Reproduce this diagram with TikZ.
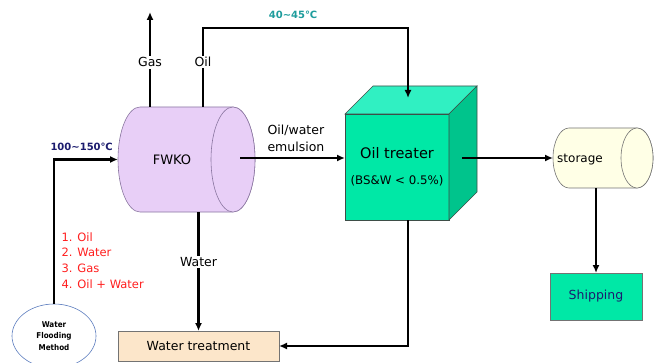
\documentclass[tikz,border=0pt]{standalone}
\usepackage{fontspec}
\setmainfont{DejaVu Sans}
\newfontfamily\condfont{DejaVu Sans Condensed}
\usetikzlibrary{arrows.meta, shapes.geometric, positioning, calc}
\definecolor{fwkolila}{HTML}{E8CFF7}
\definecolor{fwkoline}{HTML}{8A76A0}
\definecolor{treatfront}{HTML}{00E8A6}
\definecolor{treattop}{HTML}{30F0C2}
\definecolor{treatside}{HTML}{00C48C}
\definecolor{boxline}{HTML}{3E4E48}
\definecolor{storecream}{HTML}{FFFFE6}
\definecolor{watercream}{HTML}{FCE6CA}
\definecolor{floodblue}{HTML}{5B7CBE}
\definecolor{tempnavy}{HTML}{1C1C6E}
\definecolor{tempteal}{HTML}{1E9C9C}
\definecolor{listred}{HTML}{FF1E1E}

\tikzset{
  flow/.style={line width=2.2pt, -{Latex[length=8pt,width=7pt]}},
  tag/.style={fill=white, inner sep=1.5pt, font=\fontsize{12.5}{14}\selectfont},
  hull/.style={inner sep=0pt, outer sep=0pt},
  unit/.style={draw=boxline, line width=0.6pt, inner sep=0pt, outer sep=0pt},
  temp/.style={font=\bfseries\fontsize{10}{12}\selectfont},
}

\begin{document}
\begin{tikzpicture}[x=1pt, y=-1pt]
      \useasboundingbox (0,0) rectangle (660,363);
      % FWKO
      \node[hull, minimum width=137pt, minimum height=105pt] (fwko) at (186.5,159.5) {};
      \draw[fwkoline, fill=fwkolila, line width=0.6pt]
        ($(fwko.north west)+(22,0)$) -- ($(fwko.north east)+(-22,0)$)
        arc[start angle=-90, end angle=90, x radius=22, y radius=52.5]
        -- ($(fwko.south west)+(22,0)$)
        arc[start angle=90, end angle=270, x radius=22, y radius=52.5] -- cycle;
      \draw[fwkoline, fill=fwkolila, line width=0.6pt]
        ($(fwko.east)+(-22,0)$) ellipse[x radius=22, y radius=52.5];
      \node[font=\fontsize{13}{15}\selectfont] (fwkotxt) at (172,160) {FWKO};
      % Oil treater
      \node[unit, fill=treatfront, minimum width=104pt, minimum height=106pt,
            align=center, font=\fontsize{14.5}{17}\selectfont]
        (treater) at (397,167)
        {Oil treater\\[9pt]{\fontsize{11.8}{13}\selectfont (BS\&W < 0.5\%)}};
      \draw[unit, fill=treattop] (treater.north west) -- ++(28,-28) -- ++(104,0)
        -- (treater.north east) -- cycle;
      \draw[unit, fill=treatside] (treater.north east) -- ++(28,-28) -- ++(0,106)
        -- (treater.south east) -- cycle;
      % Storage
      \node[hull, minimum width=100pt, minimum height=60pt] (store) at (603,158) {};
      \draw[black!55, fill=storecream, line width=0.6pt]
        ($(store.north west)+(16,0)$) -- ($(store.north east)+(-16,0)$)
        arc[start angle=-90, end angle=90, x radius=16, y radius=30]
        -- ($(store.south west)+(16,0)$)
        arc[start angle=90, end angle=270, x radius=16, y radius=30] -- cycle;
      \draw[black!55, fill=storecream, line width=0.6pt]
        ($(store.east)+(-16,0)$) ellipse[x radius=16, y radius=30];
      \node[font=\fontsize{12}{14}\selectfont] (storetxt) at (580,160) {storage};
      % Shipping
      \node[unit, draw=black!55, fill=treatfront, minimum width=92pt, minimum height=47pt,
            text=tempnavy, font=\fontsize{12.5}{14}\selectfont]
        (ship) at (596,296.5) {Shipping};
      % Water treatment
      \node[unit, draw=black!55, fill=watercream, minimum width=161pt, minimum height=30pt,
            font=\fontsize{12.5}{14}\selectfont]
        (wt) at (198.5,346) {Water treatment};
      % Water flooding
      \node[ellipse, draw=floodblue, line width=0.6pt, fill=white, minimum width=84pt,
            minimum height=64pt, inner sep=0pt, align=center,
            font=\condfont\bfseries\fontsize{8}{11.7}\selectfont]
        (flood) at (54,336) {Water\\Flooding\\Method};
      % Feed
      \draw[flow] (flood.north) |- (fwko.west);
      \node[temp, text=tempnavy, anchor=west] (feedtemp) at (47,147) {100\textasciitilde150℃};
      \node[anchor=west, align=left, text=listred, font=\fontsize{11.5}{15.7}\selectfont]
        (feedlist) at (58,260.5) {1. Oil\\2. Water\\3. Gas\\4. Oil + Water};
      % Gas
      \coordinate (gastop) at (150,12);
      \draw[flow] (fwko.north -| gastop) -- node[tag, pos=0.47] (gastxt) {Gas} (gastop);
      % Oil
      \coordinate (oilbend) at (203,28);
      \coordinate (oilturn) at (408,28);
      \coordinate (treattop) at ($(treater.north)+(11,-16)$);
      \draw[flow] (fwko.north -| oilbend) -- node[tag, pos=0.57] (oiltxt) {Oil} (oilbend)
        -- (oilturn) -- (treattop);
      \node[temp, text=tempteal] (oiltemp) at (293,15) {40\textasciitilde45℃};
      % Emulsion
      \coordinate (emulsrc) at (240,158);
      \draw[flow] (emulsrc) -- (emulsrc -| treater.west);
      \node[anchor=west, align=left, font=\fontsize{12.5}{17}\selectfont]
        (emultxt) at (264,138) {Oil/water\\emulsion};
      % To storage
      \coordinate (treatout) at (462,158);
      \draw[flow] (treatout) -- (store.west |- treatout);
      \draw[flow] (ship.north |- store.south) -- (ship.north);
      % Water
      \draw[flow] (fwko.south -| wt.north) -- node[tag, pos=0.42] (watertxt) {Water} (wt.north);
      \draw[flow] (treater.south -| oilturn) |- (wt.east);
\end{tikzpicture}
\end{document}
